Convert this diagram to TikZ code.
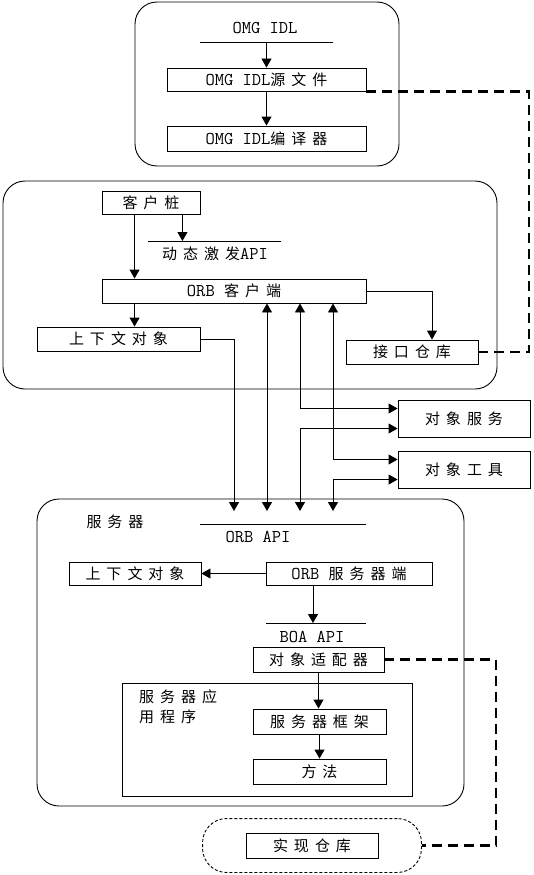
\documentclass[tikz,border=0pt]{standalone}
\usepackage{fontspec}
\newfontfamily\zh{Noto Sans CJK SC}[LetterSpace=40, Scale=0.833]
\usetikzlibrary{arrows.meta, positioning, fit, calc}

\tikzset{
  align=center,
  txt/.style={font=\fontsize{18}{20}\selectfont\ttfamily},
  box/.style={txt, draw, line width=0.9pt, inner sep=0pt, minimum height=24pt},
  apitext/.style={txt, inner sep=0pt},
  group/.style={draw, line width=0.9pt, rounded corners=22pt},
  frame/.style={draw, line width=0.9pt},
  alin/.style={line width=0.9pt},
  pto/.style={-{Triangle[length=9pt,width=10pt]}, line width=0.9pt},
  dpto/.style={{Triangle[length=9pt,width=10pt]}-{Triangle[length=9pt,width=10pt]}, line width=0.9pt},
  repo/.style={dash pattern=on 10pt off 6pt, line width=2.2pt}
}

\begin{document}
\begin{tikzpicture}[x=1pt, y=-1pt]
  \useasboundingbox (0,0) rectangle (533,875);
  \tikzset{implzone/.style={draw, densely dashed, line width=0.9pt, rounded corners=24pt}};

  % IDL part
  \draw[group] (135,2) rectangle (399,166);
  \node[apitext] (idl) at (265,28) {OMG IDL};
  \draw[alin] (200,42) coordinate (idlL) -- (333,42) coordinate (idlR);
  \node[box, minimum width=199pt, minimum height=23pt] (idlsrc) at (266.5,79.5) {OMG IDL{\zh 源文件}};
  \node[box, minimum width=199pt, minimum height=25pt] (idlcomp) at (266.5,138.5) {OMG IDL{\zh 编译器}};
  \draw[pto] (idlsrc.north |- idlL) -- (idlsrc.north);
  \draw[pto] (idlsrc) -- (idlcomp);

  % client
  \draw[group] (3,181) rectangle (497,389);
  \node[box, minimum width=98pt, minimum height=23pt] (stub) at (151,202.5) {\zh 客户桩};
  \node[apitext] (dii) at (215,254) {{\zh 动态激发}API};
  \draw[alin] (148,241) coordinate (diiL) -- (281,241) coordinate (diiR);
  \node[box, minimum width=264pt] (orbc) at (234,291) {ORB {\zh 客户端}};
  \node[box, minimum width=163pt] (ctxc) at (118.5,339) {\zh 上下文对象};
  \node[box, minimum width=132pt] (ifr) at (412,352) {\zh 接口仓库};

  \draw[pto] ([xshift=33pt]stub.south west) -- ([xshift=33pt]stub.south west |- orbc.north);
  \draw[pto] ([xshift=-18pt]stub.south east) -- ([xshift=-18pt]stub.south east |- diiL);
  \draw[pto] ([xshift=33pt]orbc.south west) -- ([xshift=33pt]orbc.south west |- ctxc.north);
  \draw[pto] (orbc.east) -| ([xshift=20pt]ifr.north);

  % services
  \node[box, minimum width=132pt, minimum height=37pt] (objsvc) at (464,418.5) {\zh 对象服务};
  \node[box, minimum width=132pt, minimum height=37pt] (objtool) at (464,469.5) {\zh 对象工具};

  % server
  \draw[group] (37,499) rectangle (464,806);
  \node[apitext] (srv) at (115,522) {\zh 服务器};
  \node[apitext] (orbapi) at (258,537) {ORB API};
  \draw[alin] (200,524) coordinate (orbapiL) -- (366,524) coordinate (orbapiR);
  \foreach \x/\n in {234/A, 267/B, 300/C, 333/D}
    \coordinate (tip\n) at (\x,511);

  \draw[pto] (ctxc.east) -| (tipA);
  \draw[dpto] (tipB |- orbc.south) -- (tipB);
  \draw[dpto] (tipC |- orbc.south) |- ([yshift=10pt]objsvc.west);
  \draw[dpto] ([yshift=-10pt]objsvc.west) -| (tipC);
  \draw[dpto] (tipD |- orbc.south) |- ([yshift=10pt]objtool.west);
  \draw[dpto] ([yshift=-10pt]objtool.west) -| (tipD);

  \node[box, minimum width=132pt, minimum height=23pt] (ctxs) at (135,573.5) {\zh 上下文对象};
  \node[box, minimum width=166pt, minimum height=23pt] (orbs) at (349,573.5) {ORB {\zh 服务器端}};
  \node[apitext] (boa) at (312,637) {BOA API};
  \draw[alin] (266,623) coordinate (boaL) -- (366,623) coordinate (boaR);
  \node[box, minimum width=131pt, minimum height=25pt] (oa) at (318.5,659.5) {\zh 对象适配器};

  \draw[frame] (122,683) rectangle (412,796);
  \node[apitext, font=\fontsize{18}{20}\selectfont\zh, anchor=north west, align=left] (app) at (139,690) {服务器应\\用程序};
  \node[box, minimum width=133pt, minimum height=25pt] (skel) at (319.5,721.5) {\zh 服务器框架};
  \node[box, minimum width=133pt, minimum height=25pt] (method) at (319.5,771.5) {\zh 方法};

  \draw[pto] (orbs) -- (ctxs);
  \draw[pto] ([xshift=-36pt]orbs.south) -- ([xshift=-36pt]orbs.south |- boaL);
  \draw[pto] (oa.south) -- (oa.south |- skel.north);
  \draw[pto] (skel) -- (method);

  % implementation repository
  \node[box, minimum width=132pt, minimum height=25pt] (implrepo) at (312,845.5) {\zh 实现仓库};
  \node[implzone, fit=(implrepo), inner xsep=43pt, inner ysep=14pt] (implbox) {};

  % repository links
  \coordinate (ifrlink) at (529,300);
  \draw[repo] (idlsrc.south east) -| (ifrlink) |- (ifr.east);
  \coordinate (impllink) at (496,750);
  \draw[repo] (oa.east) -| (impllink) |- (implbox.east);
\end{tikzpicture}
\end{document}
